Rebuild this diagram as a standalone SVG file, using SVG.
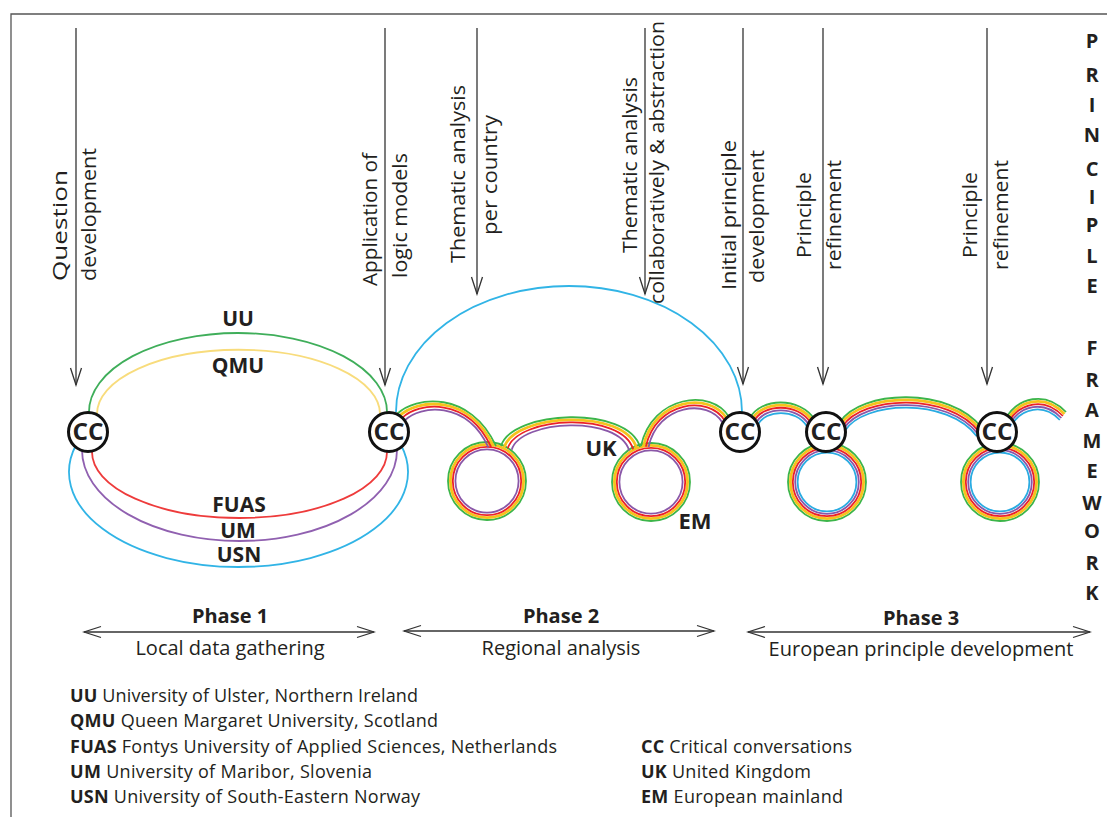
<svg xmlns="http://www.w3.org/2000/svg" width="1107" height="817" viewBox="0 0 1107 817">
<defs>
<style>
.t{font-family:"Open Sans","Liberation Sans",sans-serif;fill:#231f20}
.v{font-size:20px}
.bd{font-weight:bold}
.lg{font-size:18px}
.ar{stroke:#333;stroke-width:1.3;fill:none}
.ln{fill:none;stroke-width:1.8}
.yl{stroke-width:2.8}
.g{stroke:#3cb54a}.y{stroke:#f6c21c}.r{stroke:#ec2227}.p{stroke:#8a57a8}.bl{stroke:#29abe2}
.cc circle{fill:#fff;stroke:#111;stroke-width:3}
.cc text{font-family:"Open Sans","Liberation Sans",sans-serif;font-weight:bold;font-size:23px;text-anchor:middle;fill:#231f20}
.mid{text-anchor:middle}
</style>
<marker id="ah" viewBox="-18 -7 20 14" refX="0" refY="0" markerWidth="20" markerHeight="14" markerUnits="userSpaceOnUse" orient="auto-start-reverse">
<path d="M-17 -5.5 L0 0 L-17 5.5" fill="none" stroke="#333" stroke-width="1.3"/>
</marker>
<path id="p1" d="M397 414 C415 396 470 390 496 446" vector-effect="non-scaling-stroke"/>
<path id="p2" d="M501 446 C512 410 628 405 640 447" vector-effect="non-scaling-stroke"/>
<path id="p3" d="M641 446 C652 395 712 388 729 417" vector-effect="non-scaling-stroke"/>
<path id="p4" d="M750 418 C760 398 800 396 815 420" vector-effect="non-scaling-stroke"/>
<path id="p5" d="M840 422 C860 390 950 386 982 428" vector-effect="non-scaling-stroke"/>
<path id="p6" d="M1006 418 C1018 398 1045 390 1066 412" vector-effect="non-scaling-stroke"/>
</defs>
<rect width="1107" height="817" fill="#fff"/>
<!-- frame -->
<path d="M11 817 V14 H1107" fill="none" stroke="#555" stroke-width="1.3"/>

<g id="connectors">
  <!-- vertical activity arrows -->
  <line class="ar" x1="76" y1="28" x2="76" y2="385" marker-end="url(#ah)"/>
  <line class="ar" x1="385" y1="28" x2="385" y2="385" marker-end="url(#ah)"/>
  <line class="ar" x1="477" y1="28" x2="477" y2="294" marker-end="url(#ah)"/>
  <line class="ar" x1="645" y1="28" x2="645" y2="294" marker-end="url(#ah)"/>
  <line class="ar" x1="743" y1="28" x2="743" y2="384" marker-end="url(#ah)"/>
  <line class="ar" x1="823" y1="28" x2="823" y2="384" marker-end="url(#ah)"/>
  <line class="ar" x1="987" y1="28" x2="987" y2="384" marker-end="url(#ah)"/>
  <!-- phase arrows -->
  <line class="ar" x1="84" y1="632" x2="374" y2="632" marker-start="url(#ah)" marker-end="url(#ah)"/>
  <line class="ar" x1="404" y1="631" x2="714" y2="631" marker-start="url(#ah)" marker-end="url(#ah)"/>
  <line class="ar" x1="748" y1="632" x2="1090" y2="632" marker-start="url(#ah)" marker-end="url(#ah)"/>

  <!-- phase 1 university loops -->
  <path class="ln" stroke="#3fae5a" d="M89 412 A149 79 0 0 1 387 412"/>
  <path class="ln" stroke="#f8dc7c" d="M97 414 A141 64 0 0 1 380 414"/>
  <path class="ln" stroke="#ee3b3b" d="M92 452 A147.5 66 0 0 0 387 452"/>
  <path class="ln" stroke="#9060b0" d="M82 450 A157.5 91 0 0 0 397 450"/>
  <path class="ln" stroke="#31b4e6" d="M76 445 A169.5 95 0 1 0 401 445"/>

  <!-- phase 2 big arc -->
  <path class="ln" stroke="#31b4e6" d="M396 412 A173 126 0 0 1 742 412"/>

  <!-- rings -->
  <g fill="none">
    <circle cx="487" cy="481" r="39" class="ln g"/>
    <circle cx="487" cy="481" r="36.6" class="ln y yl"/>
    <circle cx="487" cy="481" r="34.2" class="ln r"/>
    <circle cx="487" cy="481" r="31.6" class="ln p"/>
    <circle cx="651" cy="482" r="39" class="ln g"/>
    <circle cx="651" cy="482" r="36.6" class="ln y yl"/>
    <circle cx="651" cy="482" r="34.2" class="ln r"/>
    <circle cx="651" cy="482" r="31.6" class="ln p"/>
    <circle cx="827" cy="482" r="39" class="ln g"/>
    <circle cx="827" cy="482" r="36.6" class="ln y yl"/>
    <circle cx="827" cy="482" r="34.2" class="ln r"/>
    <circle cx="827" cy="482" r="31.8" class="ln p"/>
    <circle cx="827" cy="482" r="29.4" class="ln bl"/>
    <circle cx="1000" cy="482" r="39" class="ln g"/>
    <circle cx="1000" cy="482" r="36.6" class="ln y yl"/>
    <circle cx="1000" cy="482" r="34.2" class="ln r"/>
    <circle cx="1000" cy="482" r="31.8" class="ln p"/>
    <circle cx="1000" cy="482" r="29.4" class="ln bl"/>
  </g>

  <!-- rainbow bands -->
  <g id="band1">
    <use href="#p1" class="ln g"/>
    <use href="#p1" class="ln y yl" transform="translate(447 455) scale(.95) translate(-447 -455)"/>
    <use href="#p1" class="ln r" transform="translate(447 455) scale(.90) translate(-447 -455)"/>
    <use href="#p1" class="ln p" transform="translate(447 455) scale(.845) translate(-447 -455)"/>
  </g>
  <g id="band2">
    <use href="#p2" class="ln g"/>
    <use href="#p2" class="ln y yl" transform="translate(570 470) scale(.951) translate(-570 -470)"/>
    <use href="#p2" class="ln r" transform="translate(570 470) scale(.902) translate(-570 -470)"/>
    <use href="#p2" class="ln p" transform="translate(570 470) scale(.845) translate(-570 -470)"/>
  </g>
  <g id="band3">
    <use href="#p3" class="ln g"/>
    <use href="#p3" class="ln y yl" transform="translate(688 452) scale(.948) translate(-688 -452)"/>
    <use href="#p3" class="ln r" transform="translate(688 452) scale(.896) translate(-688 -452)"/>
    <use href="#p3" class="ln p" transform="translate(688 452) scale(.84) translate(-688 -452)"/>
  </g>
  <g id="band4">
    <use href="#p4" class="ln g"/>
    <use href="#p4" class="ln y yl" transform="translate(782 445) scale(.938) translate(-782 -445)"/>
    <use href="#p4" class="ln r" transform="translate(782 445) scale(.876) translate(-782 -445)"/>
    <use href="#p4" class="ln p" transform="translate(782 445) scale(.814) translate(-782 -445)"/>
    <use href="#p4" class="ln bl" transform="translate(782 445) scale(.752) translate(-782 -445)"/>
  </g>
  <g id="band5">
    <use href="#p5" class="ln g"/>
    <use href="#p5" class="ln y yl" transform="translate(910 540) scale(.982) translate(-910 -540)"/>
    <use href="#p5" class="ln r" transform="translate(910 540) scale(.963) translate(-910 -540)"/>
    <use href="#p5" class="ln p" transform="translate(910 540) scale(.945) translate(-910 -540)"/>
    <use href="#p5" class="ln bl" transform="translate(910 540) scale(.927) translate(-910 -540)"/>
  </g>
  <g id="band6">
    <use href="#p6" class="ln g"/>
    <use href="#p6" class="ln y yl" transform="translate(1035 452) scale(.95) translate(-1035 -452)"/>
    <use href="#p6" class="ln r" transform="translate(1035 452) scale(.90) translate(-1035 -452)"/>
    <use href="#p6" class="ln p" transform="translate(1035 452) scale(.85) translate(-1035 -452)"/>
    <use href="#p6" class="ln bl" transform="translate(1035 452) scale(.80) translate(-1035 -452)"/>
  </g>
</g>

<!-- CC nodes -->
<g id="cc1" class="cc"><circle cx="88" cy="432" r="19.5"/><text x="88" y="440" textLength="31" lengthAdjust="spacingAndGlyphs">CC</text></g>
<g id="cc2" class="cc"><circle cx="389" cy="432" r="19.5"/><text x="389" y="440" textLength="31" lengthAdjust="spacingAndGlyphs">CC</text></g>
<g id="cc3" class="cc"><circle cx="740" cy="432" r="19.5"/><text x="740" y="440" textLength="31" lengthAdjust="spacingAndGlyphs">CC</text></g>
<g id="cc4" class="cc"><circle cx="826" cy="432" r="19.5"/><text x="826" y="440" textLength="31" lengthAdjust="spacingAndGlyphs">CC</text></g>
<g id="cc5" class="cc"><circle cx="997" cy="432" r="19.5"/><text x="997" y="440" textLength="31" lengthAdjust="spacingAndGlyphs">CC</text></g>

<!-- vertical activity labels -->
<g id="activity-labels" class="t v">
  <text transform="translate(67 281) rotate(-90)" textLength="111" lengthAdjust="spacingAndGlyphs">Question</text>
  <text transform="translate(96 281) rotate(-90)" textLength="133" lengthAdjust="spacingAndGlyphs">development</text>
  <text transform="translate(377 286) rotate(-90)" textLength="133" lengthAdjust="spacingAndGlyphs">Application of</text>
  <text transform="translate(407 278) rotate(-90)" textLength="125" lengthAdjust="spacingAndGlyphs">logic models</text>
  <text transform="translate(465 263) rotate(-90)" textLength="178" lengthAdjust="spacingAndGlyphs">Thematic analysis</text>
  <text transform="translate(497 235) rotate(-90)" textLength="120" lengthAdjust="spacingAndGlyphs">per country</text>
  <text transform="translate(637 253) rotate(-90)" textLength="176" lengthAdjust="spacingAndGlyphs">Thematic analysis</text>
  <text transform="translate(664 304) rotate(-90)" textLength="283" lengthAdjust="spacingAndGlyphs">collaboratively &amp; abstraction</text>
  <text transform="translate(736 290) rotate(-90)" textLength="150" lengthAdjust="spacingAndGlyphs">Initial principle</text>
  <text transform="translate(764 283) rotate(-90)" textLength="133" lengthAdjust="spacingAndGlyphs">development</text>
  <text transform="translate(811 258) rotate(-90)" textLength="86" lengthAdjust="spacingAndGlyphs">Principle</text>
  <text transform="translate(841 270) rotate(-90)" textLength="110" lengthAdjust="spacingAndGlyphs">refinement</text>
  <text transform="translate(977 258) rotate(-90)" textLength="86" lengthAdjust="spacingAndGlyphs">Principle</text>
  <text transform="translate(1008 270) rotate(-90)" textLength="110" lengthAdjust="spacingAndGlyphs">refinement</text>
</g>

<!-- loop labels -->
<g id="loop-labels" class="t bd mid" font-size="21">
  <text x="238" y="326">UU</text>
  <text x="238" y="373">QMU</text>
  <text x="239" y="512">FUAS</text>
  <text x="238" y="538">UM</text>
  <text x="239" y="562">USN</text>
  <text x="601" y="456" font-size="22">UK</text>
  <text x="695" y="529" font-size="22">EM</text>
</g>

<!-- PRINCIPLE FRAMEWORK -->
<g id="side-title" class="t bd mid" font-size="20">
  <text x="1092" y="48">P</text>
  <text x="1092" y="82">R</text>
  <text x="1092" y="112">I</text>
  <text x="1092" y="142">N</text>
  <text x="1092" y="176">C</text>
  <text x="1092" y="204">I</text>
  <text x="1092" y="232">P</text>
  <text x="1092" y="263">L</text>
  <text x="1092" y="293">E</text>
  <text x="1092" y="355">F</text>
  <text x="1092" y="387">R</text>
  <text x="1092" y="417">A</text>
  <text x="1092" y="448">M</text>
  <text x="1092" y="478">E</text>
  <text x="1092" y="510">W</text>
  <text x="1092" y="538">O</text>
  <text x="1092" y="570">R</text>
  <text x="1092" y="600">K</text>
</g>

<!-- phases -->
<g id="phases" class="t mid" font-size="20">
  <text x="230" y="623" class="bd">Phase 1</text>
  <text x="230" y="655">Local data gathering</text>
  <text x="561" y="623" class="bd">Phase 2</text>
  <text x="561" y="655">Regional analysis</text>
  <text x="921" y="625" class="bd">Phase 3</text>
  <text x="921" y="656">European principle development</text>
</g>

<!-- legend -->
<g id="legend" class="t lg">
  <text x="70" y="702" textLength="348"><tspan class="bd">UU</tspan> University of Ulster, Northern Ireland</text>
  <text x="70" y="727" textLength="368"><tspan class="bd">QMU</tspan> Queen Margaret University, Scotland</text>
  <text x="70" y="753" textLength="487"><tspan class="bd">FUAS</tspan> Fontys University of Applied Sciences, Netherlands</text>
  <text x="70" y="778" textLength="302"><tspan class="bd">UM</tspan> University of Maribor, Slovenia</text>
  <text x="70" y="803" textLength="350"><tspan class="bd">USN</tspan> University of South-Eastern Norway</text>
  <text x="641" y="753" textLength="211"><tspan class="bd">CC</tspan> Critical conversations</text>
  <text x="641" y="778" textLength="170"><tspan class="bd">UK</tspan> United Kingdom</text>
  <text x="641" y="803" textLength="202"><tspan class="bd">EM</tspan> European mainland</text>
</g>
</svg>
